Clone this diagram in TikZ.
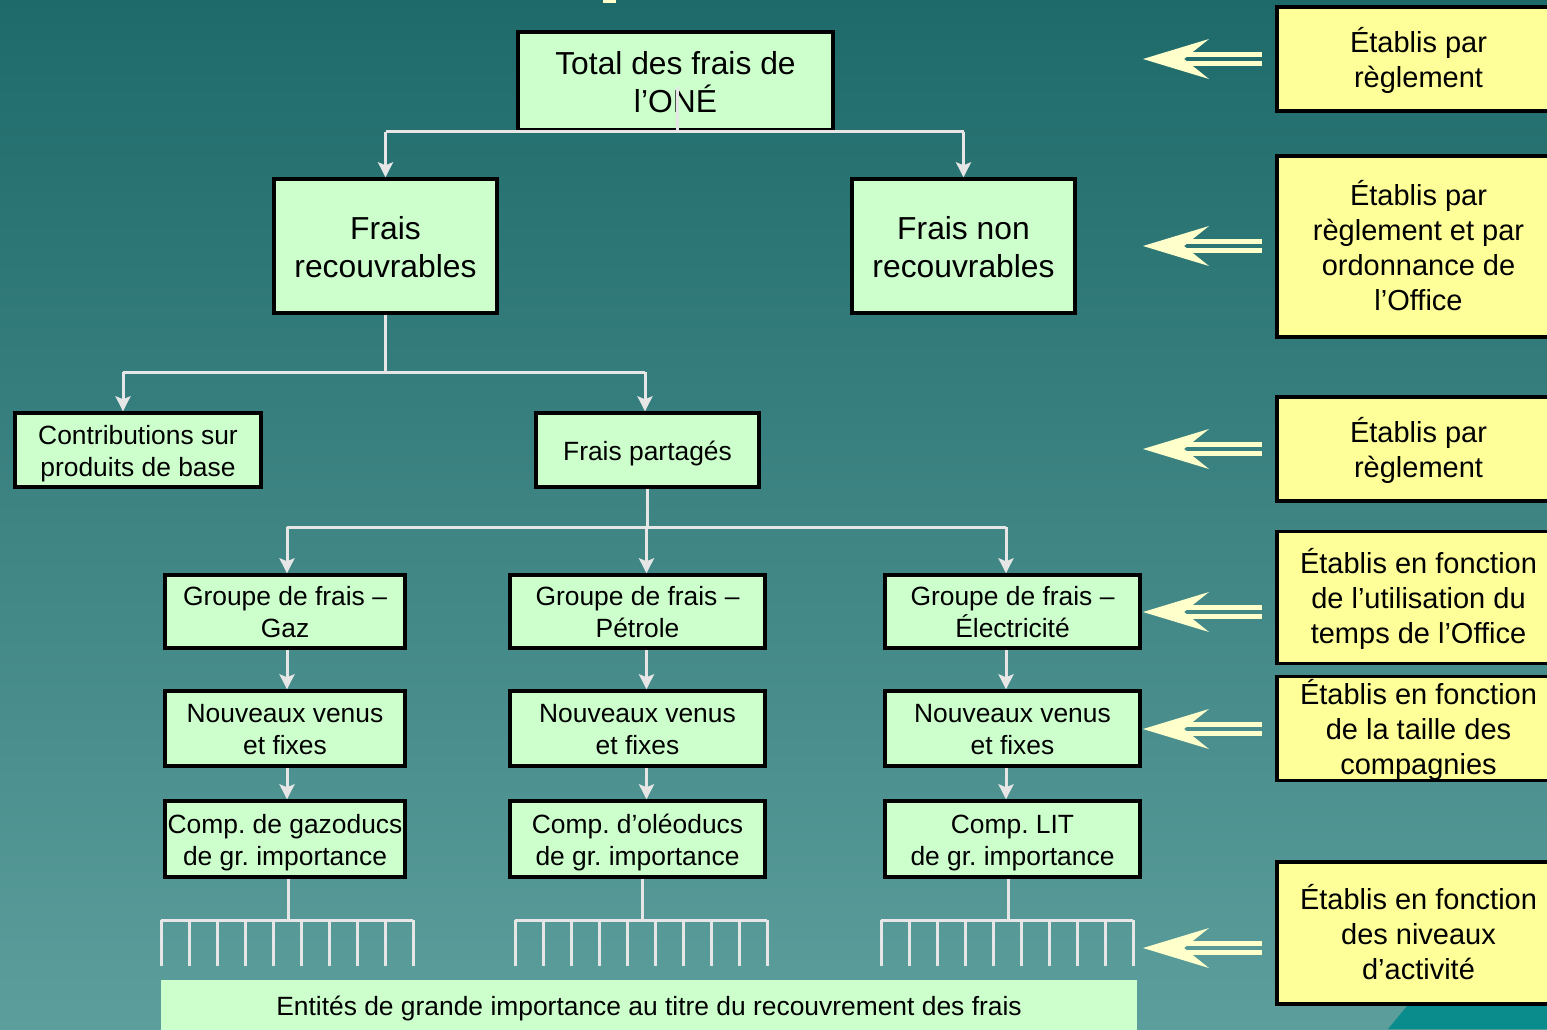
\documentclass[tikz,border=0pt]{standalone}
\usepackage{fontspec}
\setmainfont{Liberation Sans}
\frenchspacing
\usetikzlibrary{arrows.meta}
\definecolor{boxgreen}{HTML}{CCFFCC}
\definecolor{boxyellow}{HTML}{FFFF99}
\definecolor{arrowcream}{HTML}{FFFFCC}
\definecolor{linegray}{HTML}{E6E6E6}
\definecolor{bgtop}{HTML}{1E6A6A}
\definecolor{bgbot}{HTML}{5C9E9C}
\definecolor{decoteal}{HTML}{0A8C8C}
\tikzset{
  gbox/.style={draw=black, line width=1.7pt, fill=boxgreen, align=center, inner sep=0pt, text=black},
  bigtwo/.style={font=\fontsize{15.9}{19}\selectfont, text height=34pt, text depth=3pt},
  smallone/.style={font=\fontsize{13.2}{16}\selectfont, text height=12pt, text depth=2pt},
  smalltwo/.style={font=\fontsize{13.2}{16}\selectfont, text height=28pt, text depth=2pt},
  ybox/.style={draw=black, line width=1.7pt, fill=boxyellow, align=center, inner sep=0pt,
     minimum width=141.5pt, font=\fontsize{14.5}{17.6}\selectfont, text depth=2pt},
  ytwo/.style={ybox, text height=30.8pt},
  ythree/.style={ybox, text height=48.4pt},
  yfour/.style={ybox, text height=66.3pt},
  conn/.style={draw=linegray, line width=1.5pt},
  arr/.style={conn, -{Stealth[length=7.5pt,width=7.5pt,inset=1.5pt]}},
}
\newcommand{\dblarrow}[1]{%
  \fill[arrowcream] (1143,#1) -- (1209,#1-20) -- (1184,#1) -- (1209,#1+20) -- cycle;
  \fill[arrowcream] (1186,#1-6.7) rectangle (1262,#1-2.2);
  \fill[arrowcream] (1186,#1+2.2) rectangle (1262,#1+6.7);
}
\begin{document}
\begin{tikzpicture}[x=0.5pt,y=-0.5pt]
\useasboundingbox (0,0) rectangle (1547,1029);
\begin{scope}
\clip (0,0) rectangle (1547,1029);
\shade[top color=bgtop, bottom color=bgbot] (0,0) rectangle (1547,1029);
% decorations
\fill[arrowcream] (603,0) rectangle (616,3);
\fill[decoteal] (1388,1029) -- (1412,1000) -- (1547,1000) -- (1547,1029) -- cycle;

% main boxes
\node[gbox,bigtwo,minimum width=157.5pt,minimum height=49pt] (top) at (675.5,81) {Total des frais de\\l’ONÉ};
\node[gbox,bigtwo,minimum width=111.5pt,minimum height=67pt] (rec) at (385.5,246) {Frais\\recouvrables};
\node[gbox,bigtwo,minimum width=111.5pt,minimum height=67pt] (nonrec) at (963.5,246) {Frais non\\recouvrables};
\node[gbox,smalltwo,minimum width=123pt,minimum height=37pt] (contrib) at (138,450) {Contributions sur\\produits de base};
\node[gbox,smallone,minimum width=111.5pt,minimum height=37pt] (part) at (647.5,450) {Frais partagés};

\node[gbox,smalltwo,minimum width=120pt,minimum height=36.5pt] (g1) at (285,611.5) {Groupe de frais –\\Gaz};
\node[gbox,smalltwo,minimum width=127.5pt,minimum height=36.5pt] (g2) at (637.5,611.5) {Groupe de frais –\\Pétrole};
\node[gbox,smalltwo,minimum width=127.5pt,minimum height=36.5pt] (g3) at (1012.5,611.5) {Groupe de frais –\\Électricité};

\node[gbox,smalltwo,minimum width=120pt,minimum height=37.5pt] (n1) at (285,728.5) {Nouveaux venus\\et fixes};
\node[gbox,smalltwo,minimum width=127.5pt,minimum height=37.5pt] (n2) at (637.5,728.5) {Nouveaux venus\\et fixes};
\node[gbox,smalltwo,minimum width=127.5pt,minimum height=37.5pt] (n3) at (1012.5,728.5) {Nouveaux venus\\et fixes};

\node[gbox,smalltwo,minimum width=120pt,minimum height=38pt] (k1) at (285,839) {Comp. de gazoducs\\de gr. importance};
\node[gbox,smalltwo,minimum width=127.5pt,minimum height=38pt] (k2) at (637.5,839) {Comp. d’oléoducs\\de gr. importance};
\node[gbox,smalltwo,minimum width=127.5pt,minimum height=38pt] (k3) at (1012.5,839) {Comp. LIT\\de gr. importance};

\node[fill=boxgreen, inner sep=0pt, minimum width=488pt, minimum height=25pt, smallone, text=black] (ent) at (649,1005) {Entités de grande importance au titre du recouvrement des frais};

% right boxes
\node[ytwo,minimum height=52pt] (y1) at (1418.5,59) {Établis par\\règlement};
\node[yfour,minimum height=90.5pt] (y2) at (1418.5,246.5) {Établis par\\règlement et par\\ordonnance de\\l’Office};
\node[ytwo,minimum height=52pt] (y3) at (1418.5,449) {Établis par\\règlement};
\node[ythree,minimum height=66pt] (y4) at (1418.5,597.5) {Établis en fonction\\de l’utilisation du\\temps de l’Office};
\node[ythree,minimum height=52pt] (y5) at (1418.5,728.5) {Établis en fonction\\de la taille des\\compagnies};
\node[ythree,minimum height=71pt] (y6) at (1418.5,933) {Établis en fonction\\des niveaux\\d’activité};

% double arrows
\dblarrow{59}
\dblarrow{246}
\dblarrow{449}
\dblarrow{612}
\dblarrow{729}
\dblarrow{948}

% connectors level 1
\coordinate (tc) at (677,87);
\draw[conn] (tc) -- (tc |- top.south);
\draw[conn] (top.south -| rec.north) -- (top.south -| nonrec.north);
\draw[arr] (top.south -| rec.north) -- (rec.north);
\draw[arr] (top.south -| nonrec.north) -- (nonrec.north);

% level 2
\coordinate (b2) at (385.5,372);
\coordinate (ca) at (123,0);
\coordinate (cb) at (645,0);
\draw[conn] (rec.south) -- (b2);
\draw[conn] (b2 -| ca) -- (b2 -| cb);
\draw[arr] (b2 -| ca) -- (contrib.north -| ca);
\draw[arr] (b2 -| cb) -- (part.north -| cb);

% level 3
\coordinate (b3) at (647,527);
\coordinate (c1) at (287,0);
\coordinate (c2) at (646.5,0);
\coordinate (c3) at (1006,0);
\draw[conn] (part.south -| b3) -- (b3);
\draw[conn] (b3 -| c1) -- (b3 -| c3);
\draw[arr] (b3 -| c1) -- (g1.north -| c1);
\draw[arr] (b3 -| c2) -- (g2.north -| c2);
\draw[arr] (b3 -| c3) -- (g3.north -| c3);

\draw[arr] (g1.south -| c1) -- (n1.north -| c1);
\draw[arr] (g2.south -| c2) -- (n2.north -| c2);
\draw[arr] (g3.south -| c3) -- (n3.north -| c3);
\draw[arr] (n1.south -| c1) -- (k1.north -| c1);
\draw[arr] (n2.south -| c2) -- (k2.north -| c2);
\draw[arr] (n3.south -| c3) -- (k3.north -| c3);

% combs
\foreach \k/\cx/\x in {k1/288/161, k2/642/515, k3/1008/881}{
  \draw[conn] (\k.south -| \cx,0) -- (\cx,920);
  \draw[conn] (\x,920) -- (\x+252,920);
  \foreach \i in {0,...,9}{
    \draw[conn] (\x+28*\i,920) -- (\x+28*\i,966);
  }
}
\end{scope}
\end{tikzpicture}
\end{document}
